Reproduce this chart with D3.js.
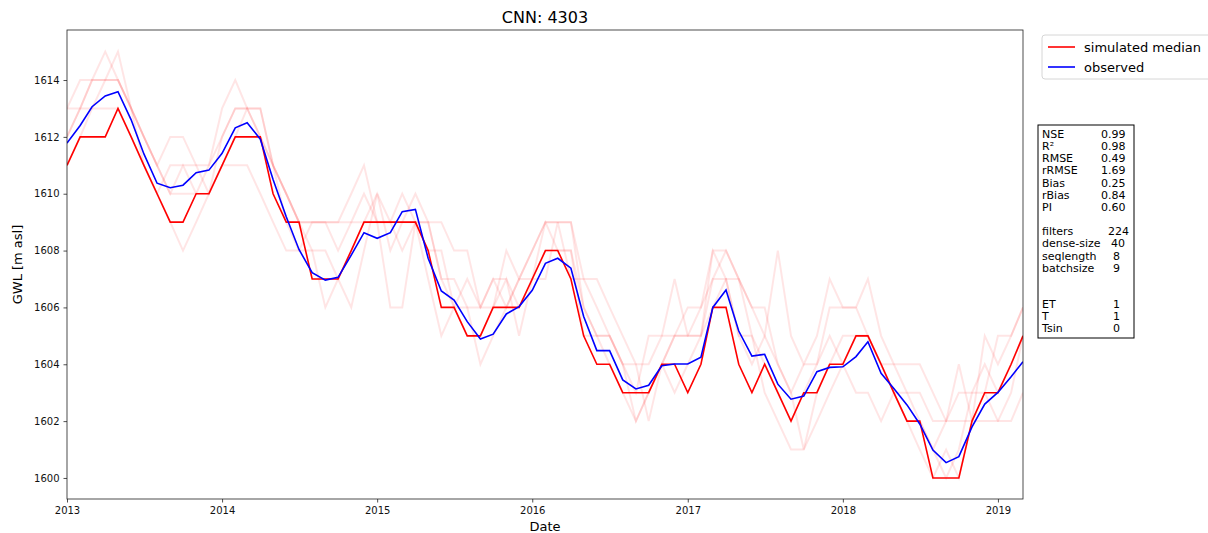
<!DOCTYPE html>
<html>
<head>
<meta charset="utf-8">
<script src="https://cdn.jsdelivr.net/npm/d3@7"></script>
<style>
  body { margin: 0; background: #fff; }
  svg { font-family: "DejaVu Sans", sans-serif; }
</style>
</head>
<body>
<div id="chart"></div>
<script>
// monthly series, Jan 2013 .. Mar 2019
const startMonth = "2013-01-01";
const endMonth = "2019-04-01";

const observed = [
  1611.78, 1612.4, 1613.06, 1613.44, 1613.59, 1612.6, 1611.4, 1610.37, 1610.21, 1610.3, 1610.74, 1610.83,
  1611.42, 1612.32, 1612.5, 1611.92, 1610.5, 1609.19, 1608.04, 1607.22, 1606.96, 1607.06, 1607.84, 1608.63,
  1608.43, 1608.63, 1609.37, 1609.45, 1607.73, 1606.58, 1606.26, 1605.5, 1604.89, 1605.06, 1605.77, 1606.03,
  1606.6, 1607.55, 1607.73, 1607.38, 1605.68, 1604.48, 1604.48, 1603.45, 1603.13, 1603.26, 1603.95, 1604.01,
  1604.01, 1604.25, 1606.0, 1606.61, 1605.17, 1604.29, 1604.35, 1603.3, 1602.77, 1602.88, 1603.74, 1603.89,
  1603.91, 1604.27, 1604.79, 1603.68, 1603.15, 1602.57, 1601.9, 1600.98, 1600.54, 1600.75, 1601.8, 1602.6,
  1603.01, 1603.56, 1604.09
];

const simMedian = [
  1611, 1612, 1612, 1612, 1613, 1612, 1611, 1610, 1609, 1609, 1610, 1610,
  1611, 1612, 1612, 1612, 1610, 1609, 1609, 1607, 1607, 1607, 1608, 1609,
  1609, 1609, 1609, 1609, 1608, 1606, 1606, 1605, 1605, 1606, 1606, 1606,
  1607, 1608, 1608, 1607, 1605, 1604, 1604, 1603, 1603, 1603, 1604, 1604,
  1603, 1604, 1606, 1606, 1604, 1603, 1604, 1603, 1602, 1603, 1603, 1604,
  1604, 1605, 1605, 1604, 1603, 1602, 1602, 1600, 1600, 1600, 1602, 1603,
  1603, 1604, 1605
];

// single ensemble members (drawn faint)
const memberA = [
  1613, 1614, 1614, 1614, 1614, 1613, 1612, 1611, 1610, 1610, 1610, 1611,
  1612, 1613, 1613, 1613, 1611, 1610, 1609, 1608, 1608, 1607, 1606, 1608,
  1610, 1608, 1609, 1610, 1609, 1607, 1606, 1605, 1605, 1606, 1608, 1607,
  1608, 1609, 1608, 1608, 1606, 1605, 1605, 1604, 1604, 1604, 1605, 1607,
  1605, 1605, 1607, 1607, 1605, 1604, 1605, 1604, 1603, 1601, 1603, 1604,
  1605, 1605, 1605, 1604, 1603, 1602, 1602, 1601, 1600, 1601, 1603, 1604,
  1603, 1604, 1605
];
const memberB = [
  1613, 1613, 1613, 1614, 1615, 1613, 1611, 1610, 1609, 1608, 1609, 1610,
  1612, 1613, 1613, 1613, 1611, 1610, 1609, 1609, 1609, 1609, 1609, 1610,
  1609, 1606, 1606, 1609, 1609, 1609, 1608, 1608, 1606, 1606, 1607, 1605,
  1607, 1609, 1609, 1609, 1607, 1606, 1605, 1604, 1602, 1603, 1604, 1603,
  1604, 1605, 1608, 1608, 1607, 1606, 1605, 1608, 1605, 1604, 1605, 1607,
  1606, 1606, 1607, 1605, 1604, 1604, 1604, 1603, 1602, 1602, 1602, 1605,
  1604, 1605, 1606
];
const memberC = [
  1612, 1613, 1614, 1615, 1614, 1613, 1612, 1611, 1612, 1612, 1611, 1610,
  1611, 1611, 1611, 1610, 1609, 1608, 1608, 1609, 1609, 1609, 1610, 1611,
  1609, 1609, 1610, 1609, 1607, 1605, 1606, 1607, 1606, 1607, 1606, 1607,
  1607, 1607, 1609, 1607, 1607, 1607, 1606, 1605, 1604, 1602, 1604, 1605,
  1605, 1606, 1608, 1607, 1605, 1605, 1603, 1602, 1601, 1601, 1602, 1603,
  1604, 1603, 1603, 1602, 1603, 1602, 1601, 1600, 1601, 1600, 1602, 1603,
  1605, 1605, 1606
];
const memberD = [
  1612, 1613, 1614, 1614, 1614, 1613, 1612, 1611, 1610, 1611, 1610, 1610,
  1611, 1612, 1613, 1612, 1611, 1609, 1608, 1608, 1606, 1607, 1608, 1609,
  1610, 1609, 1608, 1609, 1609, 1607, 1607, 1606, 1604, 1605, 1606, 1607,
  1608, 1609, 1609, 1609, 1606, 1605, 1605, 1604, 1603, 1605, 1605, 1605,
  1606, 1606, 1607, 1608, 1607, 1606, 1606, 1604, 1603, 1604, 1604, 1606,
  1606, 1606, 1605, 1604, 1604, 1603, 1603, 1602, 1602, 1603, 1603, 1603,
  1602, 1602, 1603
];
const memberE = [
  1611, 1612, 1613, 1613, 1613, 1612, 1611, 1610, 1611, 1611, 1611, 1611,
  1613, 1614, 1613, 1612, 1611, 1610, 1609, 1609, 1609, 1608, 1609, 1609,
  1609, 1609, 1609, 1609, 1608, 1608, 1606, 1606, 1606, 1607, 1607, 1606,
  1607, 1608, 1608, 1608, 1605, 1605, 1604, 1603, 1602, 1603, 1604, 1605,
  1605, 1605, 1606, 1607, 1607, 1605, 1604, 1603, 1602, 1603, 1604, 1605,
  1604, 1605, 1605, 1604, 1603, 1603, 1602, 1601, 1602, 1604, 1602, 1602,
  1602, 1603, 1605
];
const members = [memberA, memberB, memberC, memberD, memberE];

const yTicks = [1600, 1602, 1604, 1606, 1608, 1610, 1612, 1614];
const xTickYears = [2013, 2014, 2015, 2016, 2017, 2018, 2019];

const statNames = ["NSE", "R²", "RMSE", "rRMSE", "Bias", "rBias", "PI"];
const statValues = ["0.99", "0.98", "0.49", "1.69", "0.25", "0.84", "0.60"];
const hpNames = ["filters", "dense-size", "seqlength", "batchsize"];
const hpValues = ["224", "40", "8", "9"];
const inputNames = ["ET", "T", "Tsin"];
const inputValues = ["1", "1", "0"];

const width = 1208, height = 533;
const margin = { left: 67, right: 1023, top: 30, bottom: 499 };

const dates = d3.utcMonth.range(new Date(startMonth), new Date(endMonth));

const svg = d3.select("#chart").append("svg")
  .attr("width", width)
  .attr("height", height);

const x = d3.scaleUtc()
  .domain(d3.extent(dates))
  .range([margin.left, margin.right]);

const y = d3.scaleLinear()
  .domain([1599.26, 1615.76])
  .range([margin.bottom, margin.top]);

const line = d3.line()
  .x((d, i) => x(dates[i]))
  .y(d => y(d));

svg.append("defs").append("clipPath").attr("id", "plotclip")
  .append("rect")
  .attr("x", margin.left).attr("y", margin.top)
  .attr("width", margin.right - margin.left)
  .attr("height", margin.bottom - margin.top);

const plot = svg.append("g").attr("clip-path", "url(#plotclip)");

// ensemble members
members.forEach(m => {
  plot.append("path")
    .attr("d", line(m))
    .attr("fill", "none")
    .attr("stroke", "red")
    .attr("stroke-opacity", 0.1)
    .attr("stroke-width", 2);
});

plot.append("path")
  .attr("d", line(simMedian))
  .attr("fill", "none")
  .attr("stroke", "#ff0000")
  .attr("stroke-width", 1.6);

plot.append("path")
  .attr("d", line(observed))
  .attr("fill", "none")
  .attr("stroke", "#0000ff")
  .attr("stroke-width", 1.6);

// axes
const xAxis = d3.axisBottom(x)
  .tickValues(xTickYears.map(yr => new Date(Date.UTC(yr, 0, 1))))
  .tickFormat(d3.utcFormat("%Y"))
  .tickSize(3.5).tickPadding(4);

const yAxis = d3.axisLeft(y)
  .tickValues(yTicks)
  .tickFormat(d3.format("d"))
  .tickSize(3.5).tickPadding(4);

const gx = svg.append("g")
  .attr("transform", `translate(0,${margin.bottom})`)
  .call(xAxis);
const gy = svg.append("g")
  .attr("transform", `translate(${margin.left},0)`)
  .call(yAxis);

[gx, gy].forEach(g => {
  g.select(".domain").remove();
  g.selectAll("line").attr("stroke", "#222").attr("stroke-width", 0.8);
  g.selectAll("text").attr("fill", "#111")
    .style("font-family", "DejaVu Sans, sans-serif")
    .style("font-size", "10px");
});

// frame
svg.append("rect")
  .attr("x", margin.left).attr("y", margin.top)
  .attr("width", margin.right - margin.left)
  .attr("height", margin.bottom - margin.top)
  .attr("fill", "none")
  .attr("stroke", "#222")
  .attr("stroke-width", 0.8);

// titles
svg.append("text")
  .attr("x", (margin.left + margin.right) / 2)
  .attr("y", 23)
  .attr("text-anchor", "middle")
  .style("font-size", "16px")
  .text("CNN: 4303");

svg.append("text")
  .attr("x", (margin.left + margin.right) / 2)
  .attr("y", 531)
  .attr("text-anchor", "middle")
  .style("font-size", "13px")
  .text("Date");

svg.append("text")
  .attr("transform", `translate(22,${(margin.top + margin.bottom) / 2}) rotate(-90)`)
  .attr("text-anchor", "middle")
  .style("font-size", "13px")
  .text("GWL [m asl]");

// legend
const legend = svg.append("g").attr("transform", "translate(1042,35)");
legend.append("rect")
  .attr("width", 175).attr("height", 44)
  .attr("rx", 3)
  .attr("fill", "#fff")
  .attr("stroke", "#d6d6d6");
const legendItems = [
  { label: "simulated median", color: "#ff0000" },
  { label: "observed", color: "#0000ff" }
];
legendItems.forEach((d, i) => {
  const gy0 = 12 + i * 20;
  legend.append("line")
    .attr("x1", 6).attr("x2", 33)
    .attr("y1", gy0).attr("y2", gy0)
    .attr("stroke", d.color).attr("stroke-width", 1.6);
  legend.append("text")
    .attr("x", 42).attr("y", gy0 + 4.5)
    .style("font-size", "13px")
    .text(d.label);
});

// stats box
const stats = svg.append("g");
stats.append("rect")
  .attr("x", 1038).attr("y", 125)
  .attr("width", 96).attr("height", 213)
  .attr("fill", "#fff")
  .attr("stroke", "#000")
  .attr("stroke-width", 1);

const lineH = 12.15;
const rows = [];
statNames.forEach((n, i) => rows.push({ n, v: statValues[i], row: i, vx: 1101 }));
hpNames.forEach((n, i) => rows.push({ n, v: hpValues[i], row: 8 + i, vx: i === 0 ? 1108 : (i === 1 ? 1111 : 1113) }));
inputNames.forEach((n, i) => rows.push({ n, v: inputValues[i], row: 14 + i, vx: 1113 }));

rows.forEach(r => {
  const ty = 138 + r.row * lineH;
  stats.append("text").attr("x", 1042).attr("y", ty)
    .style("font-size", "11px").text(r.n);
  stats.append("text").attr("x", r.vx).attr("y", ty)
    .style("font-size", "11px").text(r.v);
});
</script>
</body>
</html>
